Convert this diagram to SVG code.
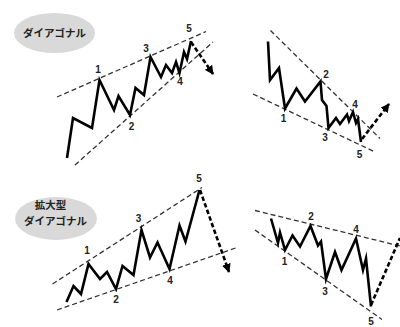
<svg xmlns="http://www.w3.org/2000/svg" width="400" height="327" viewBox="0 0 400 327">
<style>
.bg{fill:#ffffff}
.tag{fill:#d9d9d9}
.tagtx{font-family:"Noto Sans CJK JP","Liberation Sans",sans-serif;font-size:10.5px;font-weight:bold;fill:#222;text-anchor:middle}
.wave{fill:none;stroke:#000;stroke-width:2.6;stroke-linejoin:miter;stroke-miterlimit:10}
.guide{fill:none;stroke:#333;stroke-width:1.3;stroke-dasharray:5 3}
.proj{fill:none;stroke:#000;stroke-width:2.6;stroke-dasharray:4.5 2.5}
.num{font-family:"Liberation Sans","DejaVu Sans",sans-serif;font-size:10px;font-weight:bold;fill:#222;text-anchor:middle}
</style>
<defs>
<marker id="ah" viewBox="0 0 10 10" refX="9" refY="5" markerWidth="9" markerHeight="9" markerUnits="userSpaceOnUse" orient="auto">
<path d="M0,0 L10,5 L0,10 z" fill="#000"/>
</marker>
</defs>
<rect class="bg" x="0" y="0" width="400" height="327"/>

<g id="tag-diagonal">
<ellipse class="tag" cx="54.5" cy="33" rx="40.5" ry="20"/>
<text class="tagtx" x="54.5" y="37">ダイアゴナル</text>
</g>
<g id="tag-expanding">
<ellipse class="tag" cx="56" cy="218.5" rx="41" ry="21.5"/>
<text class="tagtx" x="50.5" y="209">拡大型</text>
<text class="tagtx" x="55.5" y="225">ダイアゴナル</text>
</g>

<g id="connectors">
<!-- panel 1 guides -->
<line class="guide" x1="57" y1="97" x2="206" y2="31.5"/>
<line class="guide" x1="75" y1="165" x2="213" y2="42"/>
<!-- panel 2 guides -->
<line class="guide" x1="270.5" y1="30.5" x2="380" y2="138.5"/>
<line class="guide" x1="253" y1="94" x2="375" y2="152"/>
<!-- panel 3 guides -->
<line class="guide" x1="52.5" y1="284" x2="202" y2="187.5"/>
<line class="guide" x1="57" y1="310" x2="237" y2="247.5"/>
<!-- panel 4 guides -->
<line class="guide" x1="255" y1="210.5" x2="400" y2="246"/>
<line class="guide" x1="255" y1="230" x2="382" y2="319.5"/>
<!-- projections -->
<line class="proj" x1="191" y1="42" x2="213" y2="74" marker-end="url(#ah)"/>
<line class="proj" x1="362" y1="139" x2="389" y2="104" marker-end="url(#ah)"/>
<line class="proj" x1="200" y1="190" x2="229" y2="272" marker-end="url(#ah)"/>
<line class="proj" x1="371" y1="305" x2="400" y2="238"/>
</g>

<g id="wave-diagonal-up">
<polyline class="wave" points="67,158 73,118 92,128 99.5,80 114,110 118.5,96 130,115 135.5,88 144,95 150.5,57 161,77 166,65 172,73 176,62 179.5,73 184,52 187,59 191,41"/>
<text class="num" x="98" y="73">1</text>
<text class="num" x="131.5" y="129.5">2</text>
<text class="num" x="146" y="51.5">3</text>
<text class="num" x="180" y="84.5">4</text>
<text class="num" x="189" y="32">5</text>
</g>

<g id="wave-diagonal-down">
<polyline class="wave" points="268,41.5 270,80 279,68 285,108.5 296.5,88.5 305,101.5 320.5,81.5 322,100 326.5,106 328.5,128 336,118 340,124 347,114.5 349,121 353,112 356,123 358,119 361,142"/>
<text class="num" x="283.5" y="122">1</text>
<text class="num" x="326" y="77.5">2</text>
<text class="num" x="325" y="140.5">3</text>
<text class="num" x="355" y="107.5">4</text>
<text class="num" x="359.5" y="157.5">5</text>
</g>

<g id="wave-expanding-up">
<polyline class="wave" points="66.5,302 73.5,286 81,294 88.5,264 100,279 107,272 116,289 122.5,266 133.5,275 141.5,230 150,257.5 157.5,242.5 169.5,269 179.5,225.5 185.5,241.5 199.5,190"/>
<text class="num" x="87" y="254">1</text>
<text class="num" x="116" y="303">2</text>
<text class="num" x="138.5" y="221.5">3</text>
<text class="num" x="170" y="283.5">4</text>
<text class="num" x="199" y="181.5">5</text>
</g>

<g id="wave-expanding-down">
<polyline class="wave" points="271,218.5 278,243 280,232.5 285,250 292.5,235.5 300,246.5 310.5,226 318,245.5 321,241.5 326,279 335,252 341.5,270 356,238.5 363,270 366,258.5 371,306.5"/>
<text class="num" x="284.5" y="265">1</text>
<text class="num" x="311" y="219.5">2</text>
<text class="num" x="325" y="294.5">3</text>
<text class="num" x="356" y="232.5">4</text>
<text class="num" x="371" y="325">5</text>
</g>
</svg>
